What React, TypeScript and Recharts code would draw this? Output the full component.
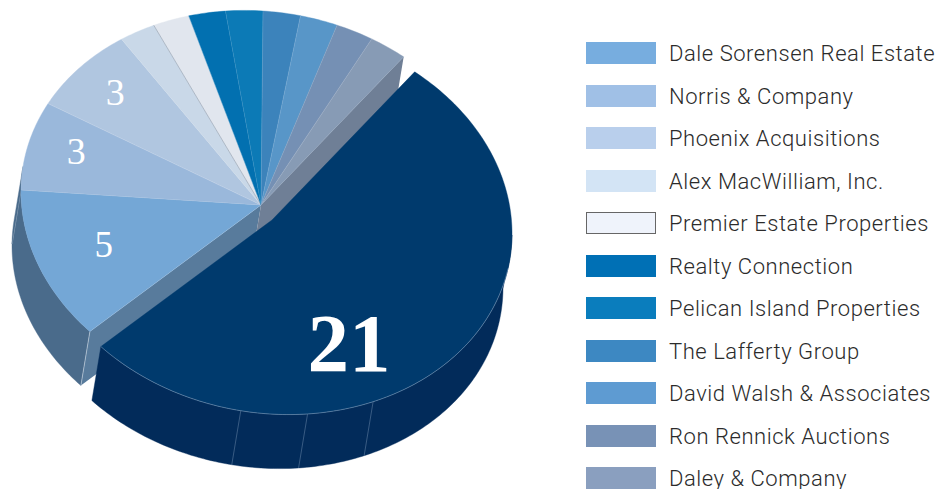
import { PieChart, Pie, Legend } from "recharts"

const owners = [
  "Dale Sorensen Real Estate", "Norris & Company", "Phoenix Acquisitions", "Alex MacWilliam, Inc.",
  "Premier Estate Properties", "Realty Connection", "Pelican Island Properties", "The Lafferty Group",
  "David Walsh & Associates", "Ron Rennick Auctions", "Daley & Company",
]
const sales = [5, 3, 3, 1, 1, 1, 1, 1, 1, 1, 1]
const leaderSales = 21
const sliceColors = ["#74a7d6", "#9ab8db", "#b0c6e0", "#c9d8e8", "#e1e6ee", "#0270b0", "#0c7ab6", "#3c83bb", "#5896c8", "#7590b4", "#879bb5"]
const swatchColors = ["#77addf", "#a0c0e6", "#b9cfec", "#d3e4f5", "#eff3fb", "#0070b5", "#0a7dbd", "#3d88c2", "#5e9bd2", "#7892b6", "#8a9fbf"]

const data = [
  ...owners.map((name, i) => ({ name, value: sales[i], color: sliceColors[i] })),
  { name: "Leader", value: leaderSales, color: "#003a6d" },
]

// tilted ellipse, theta is clockwise from the top
const X_S = 1, X_C = 2 / 240, Y_S = 15 / 240, Y_C = -194 / 240
const DEPTH = { x: -9, y: 54 }
const EXPLODE = { x: 11, y: 15 }
const FRONT_FROM = 90, FRONT_TO = 277
const SEAMS = [154.6, 171, 187]

// label spot per slice index: theta and fraction of radius
const LABEL_SPOTS: Record<number, { theta: number; frac: number; size: number; weight: number }> = {
  0: { theta: 248.8, frac: 0.7, size: 37, weight: 400 },
  1: { theta: 285.8, frac: 0.802, size: 38, weight: 400 },
  2: { theta: 311, frac: 0.81, size: 38, weight: 400 },
  11: { theta: 151.8, frac: 0.69, size: 83, weight: 700 },
}

type Pt = { x: number; y: number }

function onRim(cx: number, cy: number, r: number, theta: number): Pt {
  const t = (theta * Math.PI) / 180
  return {
    x: cx + r * (X_S * Math.sin(t) + X_C * Math.cos(t)),
    y: cy + r * (Y_S * Math.sin(t) + Y_C * Math.cos(t)),
  }
}

function rimPoints(cx: number, cy: number, r: number, from: number, to: number) {
  const pts: Pt[] = []
  const steps = Math.max(2, Math.ceil(Math.abs(to - from)))
  for (let i = 0; i <= steps; i++) pts.push(onRim(cx, cy, r, from + ((to - from) * i) / steps))
  return pts
}

const toPath = (pts: Pt[]) => pts.map((p, i) => `${i ? "L" : "M"}${p.x.toFixed(2)} ${p.y.toFixed(2)}`).join(" ") + " Z"
const shift = (p: Pt) => ({ x: p.x + DEPTH.x, y: p.y + DEPTH.y })

// sector angles from the pie turned into theta, wrapped so that from < to and from >= 0
function thetas(props: any) {
  const from = 90 - props.startAngle
  const to = 90 - props.endAngle
  const wrap = Math.floor(from / 360) * 360
  return { from: from - wrap, to: to - wrap }
}

function WallShape(props: any) {
  const { index, outerRadius: r } = props
  const big = index === owners.length
  const cx = props.cx + (big ? EXPLODE.x : 0)
  const cy = props.cy + (big ? EXPLODE.y : 0)
  const { from, to } = thetas(props)
  const wallColor = big ? "#022b5a" : "#4a6b8b"
  const seamColor = big ? "rgba(170,190,215,0.55)" : "rgba(225,232,240,0.75)"

  const a = Math.max(from, FRONT_FROM)
  const b = Math.min(to, FRONT_TO)
  const c = { x: cx, y: cy }
  const out: any[] = []

  if (a < b) {
    const top = rimPoints(cx, cy, r, a, b)
    out.push(<path key="rim" d={toPath([...top, ...top.slice().reverse().map(shift)])} fill={wallColor} stroke={wallColor} strokeWidth={0.4} />)
  }
  // cut faces next to the exploded slice
  if (index === 0) {
    const p = onRim(cx, cy, r, from)
    out.push(<path key="cut" d={toPath([c, p, shift(p), shift(c)])} fill="#587b9c" />)
    out.push(<line key="edge" x1={p.x} y1={p.y} x2={p.x + DEPTH.x} y2={p.y + DEPTH.y} stroke={seamColor} strokeWidth={0.7} />)
    const q = onRim(cx, cy, r, to)
    out.push(<line key="edge2" x1={q.x} y1={q.y} x2={q.x + DEPTH.x} y2={q.y + DEPTH.y} stroke={seamColor} strokeWidth={0.7} />)
  }
  if (index === owners.length - 1) {
    const p = onRim(cx, cy, r, to)
    out.push(<path key="cut" d={toPath([c, p, shift(p), shift(c)])} fill="#6f7f96" />)
  }
  if (big) {
    SEAMS.forEach(s => {
      const p = onRim(cx, cy, r, s)
      out.push(<line key={s} x1={p.x} y1={p.y} x2={p.x + DEPTH.x} y2={p.y + DEPTH.y} stroke={seamColor} strokeWidth={0.6} />)
    })
  }
  return <g>{out}</g>
}

function TopShape(props: any) {
  const { index, outerRadius: r, payload, value } = props
  const big = index === owners.length
  const cx = props.cx + (big ? EXPLODE.x : 0)
  const cy = props.cy + (big ? EXPLODE.y : 0)
  const { from, to } = thetas(props)
  const rim = rimPoints(cx, cy, r, from, to)
  const color = payload?.color ?? props.color
  const spot = LABEL_SPOTS[index]
  const lab = spot ? onRim(cx, cy, r * spot.frac, spot.theta) : null
  const sepEnd = onRim(cx, cy, r, from)

  return (
    <g>
      <path d={toPath([{ x: cx, y: cy }, ...rim])} fill={color} stroke={color} strokeWidth={0.4} />
      {!big && (
        <line x1={cx} y1={cy} x2={sepEnd.x} y2={sepEnd.y} stroke={index === 4 ? "#8d9aab" : "rgba(255,255,255,0.18)"} strokeWidth={0.6} />
      )}
      {big && (
        <path d={rimPoints(cx, cy, r, 100, to).map((p, i) => `${i ? "L" : "M"}${p.x} ${p.y}`).join(" ")} fill="none" stroke="rgba(170,190,215,0.6)" strokeWidth={0.7} />
      )}
      {lab && (
        <text x={lab.x} y={lab.y + spot.size * 0.335} textAnchor="middle" fill="#fff" fontFamily="'Liberation Serif', serif" fontSize={spot.size} fontWeight={spot.weight}>
          {value}
        </text>
      )}
    </g>
  )
}

function OwnerLegend() {
  return (
    <div style={{ position: "relative", width: 365, height: 489 }}>
      {owners.map((name, i) => {
        const top = 42 + i * 42.5
        const outlined = name.startsWith("Premier")
        return (
          <div key={name}>
            <div
              style={{
                position: "absolute", left: 0, top, width: 70, height: 22, boxSizing: "border-box",
                background: swatchColors[i], border: outlined ? "1px solid #666" : "none",
              }}
            />
            <div
              style={{
                position: "absolute", left: 83, top: top - 1, lineHeight: "26px", whiteSpace: "nowrap",
                fontFamily: "Roboto, sans-serif", fontWeight: 300, fontSize: 22, letterSpacing: 0.55, color: "#2b2b2b",
              }}
            >
              {name}
            </div>
          </div>
        )
      })}
    </div>
  )
}

export default function App() {
  return (
    <div style={{ position: "absolute", left: 0, top: 0, width: 951, height: 489, overflow: "hidden" }}>
      <PieChart width={951} height={489} margin={{ top: 0, right: 0, bottom: 0, left: 0 }}>
        <Pie data={data} dataKey="value" nameKey="name" cx={261} cy={205} outerRadius={240} startAngle={-135} endAngle={-495} shape={WallShape} isAnimationActive={false} />
        <Pie data={data} dataKey="value" nameKey="name" cx={261} cy={205} outerRadius={240} startAngle={-135} endAngle={-495} shape={TopShape} isAnimationActive={false} />
        <Legend content={<OwnerLegend />} wrapperStyle={{ position: "absolute", left: 586, top: 0, width: 365, height: 489 }} />
      </PieChart>
    </div>
  )
}
